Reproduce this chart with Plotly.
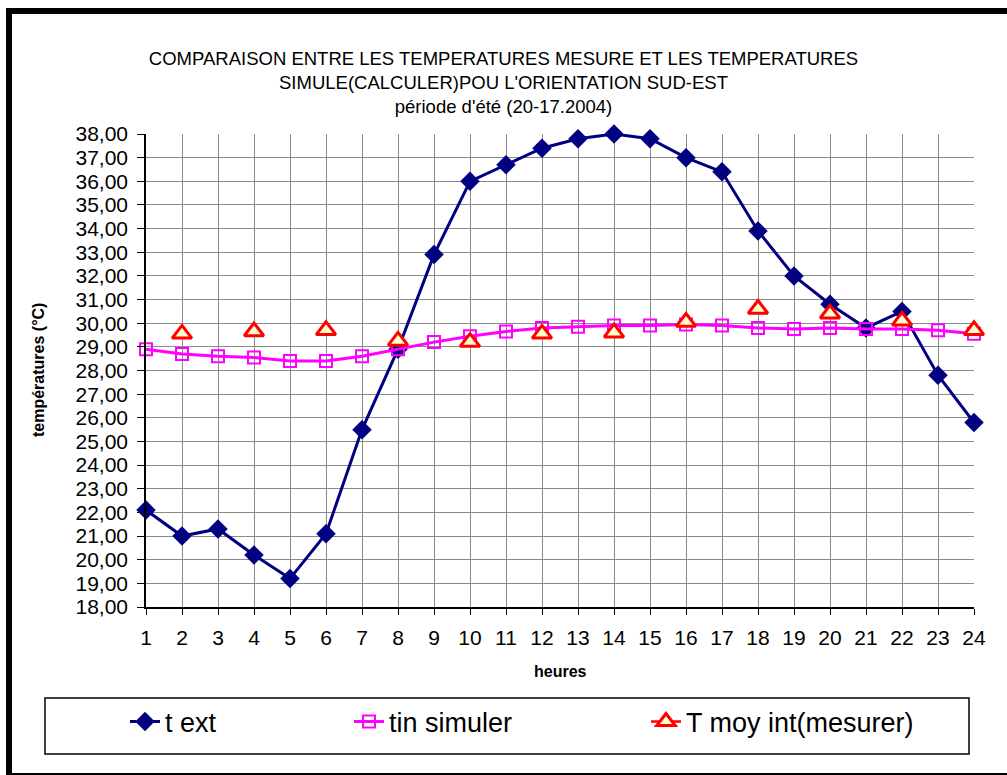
import plotly.graph_objects as go

# Hourly temperatures, south-east orientation, summer period
heures = list(range(1, 25))

t_ext = [22.1, 21.0, 21.3, 20.2, 19.2, 21.1, 25.5, 28.9, 32.9, 36.0, 36.7, 37.4,
         37.8, 38.0, 37.8, 37.0, 36.4, 33.9, 32.0, 30.8, 29.8, 30.5, 27.8, 25.8]

tin_simuler = [28.9, 28.7, 28.6, 28.55, 28.4, 28.4, 28.6, 28.9, 29.2, 29.45, 29.65, 29.8,
               29.85, 29.9, 29.9, 29.95, 29.9, 29.8, 29.75, 29.8, 29.75, 29.75, 29.7, 29.55]

# measured mean indoor temperature, recorded every two hours
t_moy_int = [None, 29.55, None, 29.65, None, 29.7, None, 29.25, None, 29.2, None, 29.55,
             None, 29.6, None, 30.05, None, 30.6, None, 30.4, None, 30.1, None, 29.7]

y_ticks = [18, 19, 20, 21, 22, 23, 24, 25, 26, 27, 28, 29, 30, 31, 32, 33, 34, 35, 36, 37, 38]

FONT = "Liberation Sans, Arial, sans-serif"
W, H = 1007, 775
L, R, T, B = 146, 33, 134, 168
PW, PH = W - L - R, H - T - B


def px(x):
    return (x - L) / PW


def py(y):
    return (H - B - y) / PH


fig = go.Figure()

fig.add_trace(go.Scatter(
    x=heures, y=t_ext, name="t ext", mode="lines+markers",
    line=dict(color="#000080", width=3),
    marker=dict(symbol="diamond", size=15, color="#000080"),
    cliponaxis=False, legend="legend",
))
fig.add_trace(go.Scatter(
    x=heures, y=tin_simuler, name="tin simuler", mode="lines+markers",
    line=dict(color="#FF00FF", width=3),
    marker=dict(symbol="square", size=12, color="rgba(255,255,255,0)",
                line=dict(color="#FF00FF", width=2)),
    cliponaxis=False, legend="legend2",
))
fig.add_trace(go.Scatter(
    x=heures, y=t_moy_int, name="T moy int(mesurer)", mode="lines+markers",
    connectgaps=False,
    line=dict(color="#FF0000", width=2.5),
    marker=dict(symbol="triangle-up", size=17, color="#FFFFCC",
                line=dict(color="#FF0000", width=3)),
    cliponaxis=False, legend="legend3",
))

legend_common = dict(
    orientation="h", yanchor="middle", xanchor="left",
    font=dict(family=FONT, size=27, color="black"),
    bgcolor="rgba(0,0,0,0)", borderwidth=0,
)

shapes = [
    # legend frame
    dict(type="rect", xref="paper", yref="paper",
         x0=px(45), x1=px(969), y0=py(754), y1=py(698),
         line=dict(color="black", width=1.5), fillcolor="rgba(0,0,0,0)"),
    # chart frame
    dict(type="line", xref="paper", yref="paper",
         x0=px(9), x1=px(9), y0=py(776), y1=py(8),
         line=dict(color="black", width=6)),
    dict(type="line", xref="paper", yref="paper",
         x0=px(6), x1=px(1012), y0=py(11), y1=py(11),
         line=dict(color="black", width=6)),
    dict(type="line", xref="paper", yref="paper",
         x0=px(9), x1=px(1012), y0=py(774), y1=py(774),
         line=dict(color="black", width=2)),
]

annotations = [
    dict(text="<b>températures (°C)</b>", xref="paper", yref="paper",
         x=px(38), y=py(370), textangle=-90, showarrow=False,
         xanchor="center", yanchor="middle",
         font=dict(family=FONT, size=16, color="black")),
    dict(text="<b>heures</b>", xref="paper", yref="paper",
         x=px(560), y=py(671), showarrow=False,
         xanchor="center", yanchor="middle",
         font=dict(family=FONT, size=16, color="black")),
]

fig.update_layout(
    width=W, height=H,
    margin=dict(l=L, r=R, t=T, b=B),
    paper_bgcolor="white", plot_bgcolor="white",
    separators=", ",
    showlegend=True,
    title=dict(
        text="COMPARAISON ENTRE LES TEMPERATURES MESURE ET LES TEMPERATURES<br>"
             "SIMULE(CALCULER)POU L'ORIENTATION SUD-EST<br>"
             "période d'été (20-17.2004)",
        x=0.5, xanchor="center", xref="container",
        y=1 - 65 / H, yanchor="top", yref="container",
        font=dict(family=FONT, size=18.5, color="black"),
    ),
    xaxis=dict(
        range=[1, 24], tickmode="array", tickvals=heures,
        ticktext=[str(h) for h in heures],
        showgrid=True, gridcolor="#8a8a8a", gridwidth=1,
        showline=True, linecolor="black", linewidth=1.5,
        ticks="outside", ticklen=6, tickcolor="black",
        tickfont=dict(family=FONT, size=21, color="black"),
        ticklabelstandoff=5, zeroline=False,
    ),
    yaxis=dict(
        range=[18, 38], tickmode="array", tickvals=y_ticks,
        tickformat=".2f",
        showgrid=True, gridcolor="#8a8a8a", gridwidth=1,
        showline=True, linecolor="black", linewidth=1.5,
        ticks="outside", ticklen=7, tickcolor="black",
        tickfont=dict(family=FONT, size=21, color="black"),
        ticklabelstandoff=5, zeroline=False,
    ),
    legend=dict(x=px(125), y=py(722), **legend_common),
    legend2=dict(x=px(349), y=py(722), **legend_common),
    legend3=dict(x=px(646), y=py(722), **legend_common),
    shapes=shapes,
    annotations=annotations,
)

fig.write_html("out.html")
